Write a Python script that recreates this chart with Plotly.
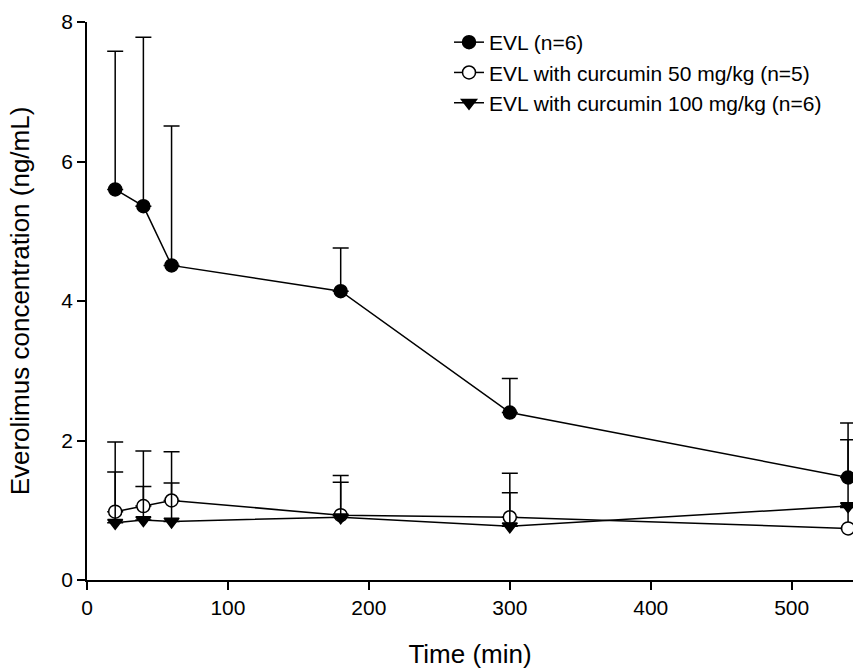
import plotly.graph_objects as go

time_min = [20, 40, 60, 180, 300, 540]

evl_mean = [5.60, 5.36, 4.51, 4.14, 2.40, 1.47]
evl_sd = [1.98, 2.42, 2.00, 0.62, 0.49, 0.78]

cur50_mean = [0.98, 1.06, 1.14, 0.93, 0.90, 0.74]
cur50_sd = [1.00, 0.79, 0.70, 0.57, 0.63, 0.30]

cur100_mean = [0.82, 0.86, 0.84, 0.90, 0.77, 1.06]
cur100_sd = [0.73, 0.48, 0.55, 0.50, 0.48, 0.95]

names = ["EVL (n=6)", "EVL with curcumin 50 mg/kg (n=5)", "EVL with curcumin 100 mg/kg (n=6)"]

FONT = "Liberation Sans, Arial, sans-serif"

fig = go.Figure()

def add(mean, sd, name, symbol, fill):
    fig.add_trace(go.Scatter(
        x=time_min, y=mean, name=name, mode="lines+markers",
        line=dict(color="black", width=1.5),
        marker=dict(symbol=symbol, size=13, color=fill, line=dict(color="black", width=1.5)),
        error_y=dict(type="data", array=sd, arrayminus=[0] * len(sd), symmetric=False,
                     color="black", thickness=1.5, width=8),
        cliponaxis=False,
    ))

add(evl_mean, evl_sd, names[0], "circle", "black")
add(cur50_mean, cur50_sd, names[1], "circle", "white")
add(cur100_mean, cur100_sd, names[2], "triangle-down", "black")

fig.update_layout(
    width=853, height=669,
    margin=dict(l=87, r=0, t=22, b=89),
    paper_bgcolor="white", plot_bgcolor="white",
    font=dict(family=FONT, size=21, color="black"),
    showlegend=True,
    legend=dict(x=0.4726, y=1.0, xanchor="left", yanchor="top",
                font=dict(family=FONT, size=21, color="black"),
                bgcolor="rgba(0,0,0,0)", tracegroupgap=0),
    xaxis=dict(range=[0, 543.5], tickvals=[0, 100, 200, 300, 400, 500],
               showline=True, linecolor="black", linewidth=1.5,
               ticks="outside", ticklen=8, tickwidth=1.5, tickcolor="black",
               showgrid=False, zeroline=False,
               tickfont=dict(size=21),
               title=dict(text="Time (min)", font=dict(size=26), standoff=29)),
    yaxis=dict(range=[0, 8], tickvals=[0, 2, 4, 6, 8],
               showline=True, linecolor="black", linewidth=1.5,
               ticks="outside", ticklen=8, tickwidth=1.5, tickcolor="black",
               showgrid=False, zeroline=False,
               tickfont=dict(size=21),
               title=dict(text="Everolimus concentration (ng/mL)", font=dict(size=26), standoff=24)),
)

fig.write_html("out.html")
